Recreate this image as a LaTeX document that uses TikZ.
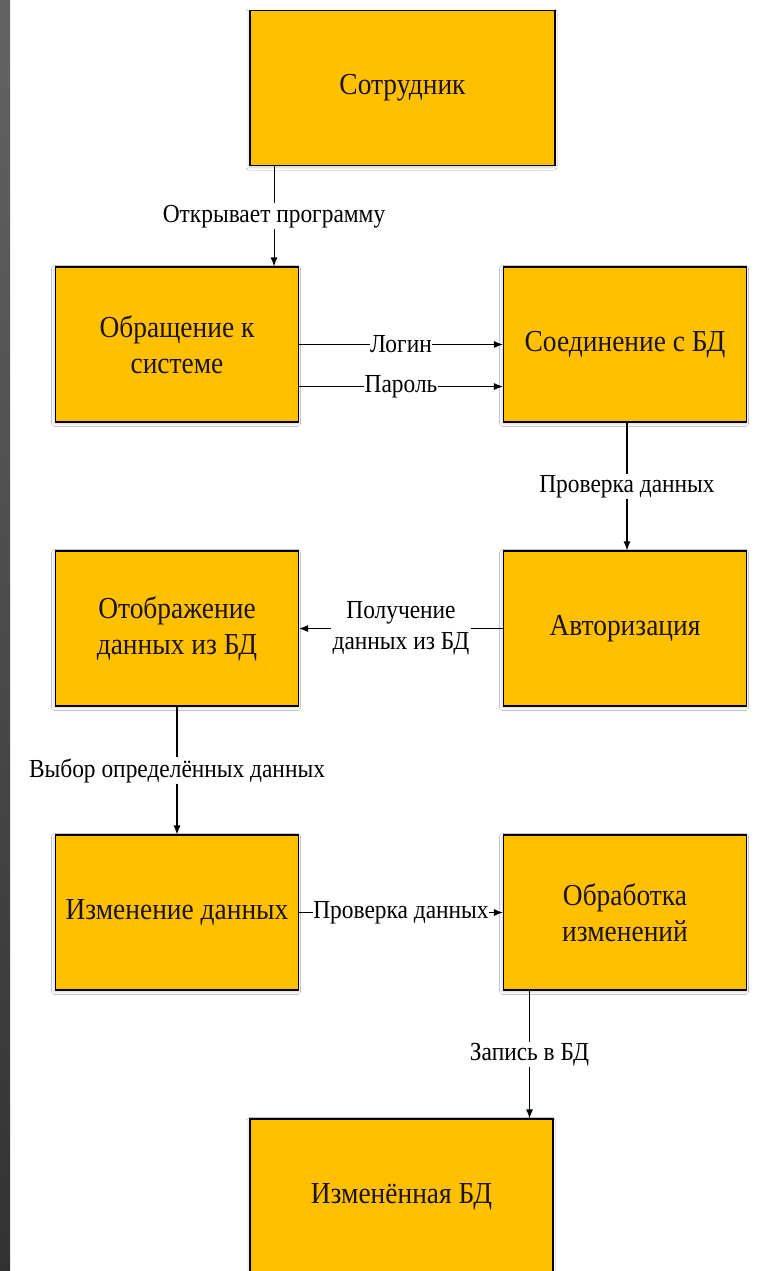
\documentclass[tikz,border=0pt]{standalone}
\usepackage{fontspec}
\setmainfont[FakeStretch=0.9]{Liberation Serif}
\usetikzlibrary{arrows.meta,shadows.blur,calc}
\definecolor{boxfill}{HTML}{FFC000}
\definecolor{striptop}{HTML}{636363}
\definecolor{stripbot}{HTML}{323232}
\begin{document}
\begin{tikzpicture}[x=1pt,y=1pt,
  blk/.style={draw=black, line width=1.1pt, fill=boxfill, minimum width=#1,
    minimum height=155pt, inner sep=0pt, align=center,
    font=\fontsize{30.5}{36}\selectfont, text=black!85!brown,
    blur shadow={shadow xshift=-1pt, shadow yshift=-1.5pt, shadow blur radius=3pt, shadow opacity=20}},
  blk/.default=243pt,
  lbl/.style={fill=white, inner sep=1.5pt, align=center, font=\fontsize{26}{31}\selectfont},
  arr/.style={draw=black, line width=1.1pt, -{Latex[length=9pt,width=7pt]}}
]
\useasboundingbox (0,0) rectangle (768,-1271);
\fill[white] (0,0) rectangle (768,-1271);
\shade[top color=striptop, bottom color=stripbot] (0,0) rectangle (10,-1271);

\node[blk=305pt] (A) at (402.5,-88) {Сотрудник};
\node[blk] (B) at (177,-344.5) {Обращение к\\системе};
\node[blk] (C) at (625,-344.5) {Соединение с БД};
\node[blk] (D) at (177,-628.5) {Отображение\\данных из БД};
\node[blk] (E) at (625,-628.5) {Авторизация};
\node[blk] (F) at (177,-912.5) {Изменение данных};
\node[blk] (G) at (625,-912.5) {Обработка\\изменений};
\node[blk=303pt] (H) at (401.5,-1196.5) {Изменённая БД};

\coordinate (ab) at ([xshift=-25pt]B.north east);
\draw[arr] (A.south -| ab) -- node[lbl] {Открывает программу} (ab);

\draw[arr] (B.east) -- node[lbl, inner sep=0.5pt] {Логин} (C.west);
\coordinate (bp) at ([yshift=-42pt]B.east);
\draw[arr] (bp) -- node[lbl, inner sep=0.5pt] {Пароль} (C.west |- bp);

\coordinate (ce) at ([xshift=2pt]E.north);
\draw[arr] (C.south -| ce) -- node[lbl] {Проверка данных} (ce);

\draw[arr] (E.west) -- node[lbl] {Получение\\данных из БД} (D.east);

\draw[arr] (D.south) -- node[lbl] {Выбор определённых данных} (F.north);

\draw[arr] (F.east) -- node[lbl, inner sep=0.5pt] {Проверка данных} (G.west);

\coordinate (gh) at ([xshift=-24pt]H.north east);
\draw[arr] (G.south -| gh) -- node[lbl] {Запись в БД} (gh);
\end{tikzpicture}
\end{document}
